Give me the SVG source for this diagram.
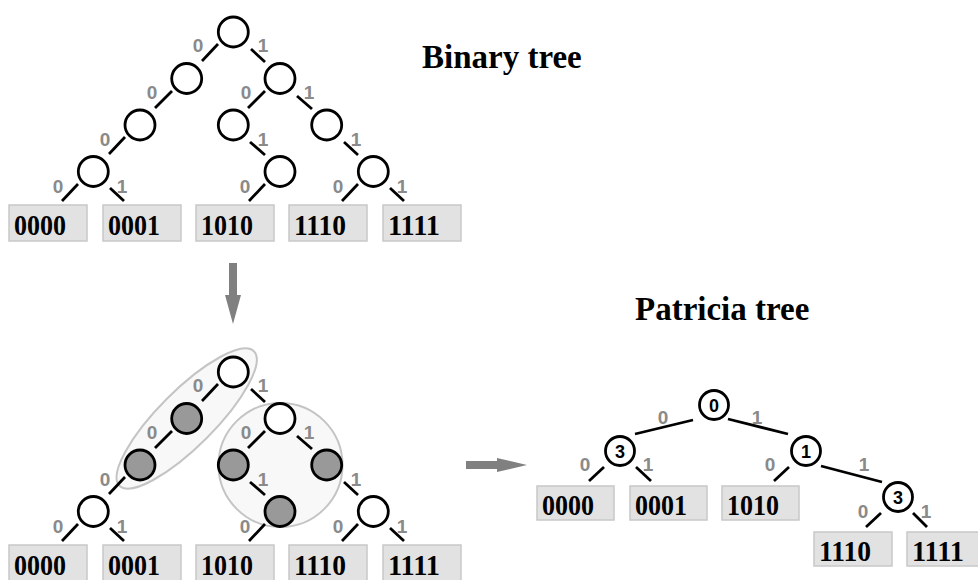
<svg xmlns="http://www.w3.org/2000/svg" width="978" height="580" viewBox="0 0 978 580">
  <style>
    .node { fill: #ffffff; stroke: #000000; stroke-width: 2.8; }
    .node.shaded { fill: #999999; }
    .edge { stroke: #000000; stroke-width: 2.8; fill: none; }
    .bit { font-family: "Liberation Sans", Arial, sans-serif; font-weight: bold; font-size: 19px; fill: #8a8a8a; text-anchor: middle; }
    .idx { font-family: "Liberation Sans", Arial, sans-serif; font-weight: bold; font-size: 18px; fill: #000000; text-anchor: middle; }
    .leaf rect { fill: #e2e2e2; stroke: #c8c8c8; stroke-width: 1.5; }
    .leaf text { font-family: "Liberation Serif", "Times New Roman", serif; font-weight: bold; font-size: 30px; fill: #000000; }
    .title { font-family: "Liberation Serif", "Times New Roman", serif; font-weight: bold; font-size: 33px; fill: #000000; }
    .group { fill: #f8f8f8; stroke: #c4c4c4; stroke-width: 2; }
    .arrow { fill: #808080; }
  </style>

  <!-- Titles -->
  <text class="title" x="422" y="68">Binary tree</text>
  <text class="title" x="635" y="320">Patricia tree</text>

  <!-- ===== Binary tree (top) ===== -->
  <g id="binary-edges">
    <line class="edge" x1="218" y1="44" x2="202" y2="61"/>
    <line class="edge" x1="251" y1="49" x2="265" y2="62"/>
    <line class="edge" x1="172" y1="91" x2="155" y2="108"/>
    <line class="edge" x1="265" y1="91" x2="248" y2="108"/>
    <line class="edge" x1="297" y1="96" x2="312" y2="109"/>
    <line class="edge" x1="125" y1="137" x2="109" y2="154"/>
    <line class="edge" x1="250" y1="142" x2="265" y2="155"/>
    <line class="edge" x1="344" y1="142" x2="358" y2="155"/>
    <line class="edge" x1="78" y1="184" x2="62" y2="201"/>
    <line class="edge" x1="110" y1="188" x2="124" y2="201"/>
    <line class="edge" x1="265" y1="184" x2="249" y2="201"/>
    <line class="edge" x1="358" y1="184" x2="342" y2="201"/>
    <line class="edge" x1="390" y1="188" x2="404" y2="201"/>
  </g>
  <g id="binary-bits">
    <text class="bit" x="198" y="52">0</text>
    <text class="bit" x="263" y="52">1</text>
    <text class="bit" x="152" y="99">0</text>
    <text class="bit" x="246" y="99">0</text>
    <text class="bit" x="309" y="99">1</text>
    <text class="bit" x="105" y="146">0</text>
    <text class="bit" x="263" y="146">1</text>
    <text class="bit" x="356" y="146">1</text>
    <text class="bit" x="58" y="193">0</text>
    <text class="bit" x="122" y="193">1</text>
    <text class="bit" x="245" y="193">0</text>
    <text class="bit" x="338" y="193">0</text>
    <text class="bit" x="402" y="193">1</text>
  </g>
  <g id="binary-nodes">
    <circle id="b-root" class="node" cx="233.3" cy="32" r="15"/>
    <circle id="b-0" class="node" cx="186.7" cy="78.5" r="15"/>
    <circle id="b-1" class="node" cx="280" cy="78.5" r="15"/>
    <circle id="b-00" class="node" cx="140" cy="125" r="15"/>
    <circle id="b-10" class="node" cx="233.3" cy="125" r="15"/>
    <circle id="b-11" class="node" cx="326.7" cy="125" r="15"/>
    <circle id="b-000" class="node" cx="93.3" cy="171.5" r="15"/>
    <circle id="b-101" class="node" cx="280" cy="171.5" r="15"/>
    <circle id="b-111" class="node" cx="373.3" cy="171.5" r="15"/>
  </g>
  <g id="binary-leaves">
    <g id="b-leaf-0000" class="leaf"><rect x="9" y="205" width="78" height="36"/><text x="14" y="235" textLength="52" lengthAdjust="spacingAndGlyphs">0000</text></g>
    <g id="b-leaf-0001" class="leaf"><rect x="103" y="205" width="78" height="36"/><text x="108" y="235" textLength="52" lengthAdjust="spacingAndGlyphs">0001</text></g>
    <g id="b-leaf-1010" class="leaf"><rect x="196" y="205" width="78" height="36"/><text x="201" y="235" textLength="52" lengthAdjust="spacingAndGlyphs">1010</text></g>
    <g id="b-leaf-1110" class="leaf"><rect x="289" y="205" width="78" height="36"/><text x="294" y="235" textLength="52" lengthAdjust="spacingAndGlyphs">1110</text></g>
    <g id="b-leaf-1111" class="leaf"><rect x="383" y="205" width="78" height="36"/><text x="388" y="235" textLength="52" lengthAdjust="spacingAndGlyphs">1111</text></g>
  </g>

  <!-- Down arrow -->
  <polygon class="arrow" points="229,263 237,263 237,295 241,295 233,324 225,295 229,295"/>

  <!-- ===== Binary tree with collapsible chains (bottom) ===== -->
  <g id="chains">
    <ellipse class="group" cx="186.7" cy="418.5" rx="95" ry="28" transform="rotate(-45 186.7 418.5)"/>
    <circle class="group" cx="280.5" cy="465" r="62"/>
  </g>
  <g id="chain-edges">
    <line class="edge" x1="218" y1="384" x2="202" y2="401"/>
    <line class="edge" x1="251" y1="389" x2="265" y2="402"/>
    <line class="edge" x1="172" y1="431" x2="155" y2="448"/>
    <line class="edge" x1="265" y1="431" x2="248" y2="448"/>
    <line class="edge" x1="297" y1="436" x2="312" y2="449"/>
    <line class="edge" x1="125" y1="477" x2="109" y2="494"/>
    <line class="edge" x1="250" y1="482" x2="265" y2="495"/>
    <line class="edge" x1="344" y1="482" x2="358" y2="495"/>
    <line class="edge" x1="78" y1="524" x2="62" y2="541"/>
    <line class="edge" x1="110" y1="528" x2="124" y2="541"/>
    <line class="edge" x1="265" y1="524" x2="249" y2="541"/>
    <line class="edge" x1="358" y1="524" x2="342" y2="541"/>
    <line class="edge" x1="390" y1="528" x2="404" y2="541"/>
  </g>
  <g id="chain-bits">
    <text class="bit" x="198" y="392">0</text>
    <text class="bit" x="263" y="392">1</text>
    <text class="bit" x="152" y="439">0</text>
    <text class="bit" x="246" y="439">0</text>
    <text class="bit" x="309" y="439">1</text>
    <text class="bit" x="105" y="486">0</text>
    <text class="bit" x="263" y="486">1</text>
    <text class="bit" x="356" y="486">1</text>
    <text class="bit" x="58" y="533">0</text>
    <text class="bit" x="122" y="533">1</text>
    <text class="bit" x="245" y="533">0</text>
    <text class="bit" x="338" y="533">0</text>
    <text class="bit" x="402" y="533">1</text>
  </g>
  <g id="chain-nodes">
    <circle id="c-root" class="node" cx="233.3" cy="372" r="15"/>
    <circle id="c-0" class="node shaded" cx="186.7" cy="418.5" r="15"/>
    <circle id="c-1" class="node" cx="280" cy="418.5" r="15"/>
    <circle id="c-00" class="node shaded" cx="140" cy="465" r="15"/>
    <circle id="c-10" class="node shaded" cx="233.3" cy="465" r="15"/>
    <circle id="c-11" class="node shaded" cx="326.7" cy="465" r="15"/>
    <circle id="c-000" class="node" cx="93.3" cy="511.5" r="15"/>
    <circle id="c-101" class="node shaded" cx="280" cy="511.5" r="15"/>
    <circle id="c-111" class="node" cx="373.3" cy="511.5" r="15"/>
  </g>
  <g id="chain-leaves">
    <g id="c-leaf-0000" class="leaf"><rect x="9" y="545" width="78" height="36"/><text x="14" y="575" textLength="52" lengthAdjust="spacingAndGlyphs">0000</text></g>
    <g id="c-leaf-0001" class="leaf"><rect x="103" y="545" width="78" height="36"/><text x="108" y="575" textLength="52" lengthAdjust="spacingAndGlyphs">0001</text></g>
    <g id="c-leaf-1010" class="leaf"><rect x="196" y="545" width="78" height="36"/><text x="201" y="575" textLength="52" lengthAdjust="spacingAndGlyphs">1010</text></g>
    <g id="c-leaf-1110" class="leaf"><rect x="289" y="545" width="78" height="36"/><text x="294" y="575" textLength="52" lengthAdjust="spacingAndGlyphs">1110</text></g>
    <g id="c-leaf-1111" class="leaf"><rect x="383" y="545" width="78" height="36"/><text x="388" y="575" textLength="52" lengthAdjust="spacingAndGlyphs">1111</text></g>
  </g>

  <!-- Right arrow -->
  <polygon class="arrow" points="466,461 497,461 497,458 527,465 497,472 497,469 466,469"/>

  <!-- ===== Patricia tree ===== -->
  <g id="patricia-edges">
    <line class="edge" x1="693" y1="420" x2="635" y2="434"/>
    <line class="edge" x1="728" y1="419" x2="788" y2="434"/>
    <line class="edge" x1="821" y1="466" x2="882" y2="482"/>
    <line class="edge" x1="604" y1="467" x2="589" y2="481"/>
    <line class="edge" x1="636" y1="467" x2="651" y2="481"/>
    <line class="edge" x1="789" y1="467" x2="774" y2="481"/>
    <line class="edge" x1="881" y1="513" x2="866" y2="527"/>
    <line class="edge" x1="913" y1="513" x2="927" y2="527"/>
  </g>
  <g id="patricia-bits">
    <text class="bit" x="663" y="424">0</text>
    <text class="bit" x="757" y="424">1</text>
    <text class="bit" x="585" y="471">0</text>
    <text class="bit" x="648" y="471">1</text>
    <text class="bit" x="770" y="471">0</text>
    <text class="bit" x="864" y="471">1</text>
    <text class="bit" x="863" y="518">0</text>
    <text class="bit" x="926" y="518">1</text>
  </g>
  <g id="p-root">
    <circle class="node" cx="714" cy="405" r="14.5"/>
    <text class="idx" x="714" y="411.5">0</text>
  </g>
  <g id="p-left">
    <circle class="node" cx="620" cy="451" r="14.5"/>
    <text class="idx" x="620" y="457.5">3</text>
  </g>
  <g id="p-right">
    <circle class="node" cx="806" cy="451" r="14.5"/>
    <text class="idx" x="806" y="457.5">1</text>
  </g>
  <g id="p-right-right">
    <circle class="node" cx="898" cy="497" r="14.5"/>
    <text class="idx" x="898" y="503.5">3</text>
  </g>
  <g id="patricia-leaves">
    <g id="p-leaf-0000" class="leaf"><rect x="537" y="486" width="77" height="34"/><text x="542" y="515" textLength="52" lengthAdjust="spacingAndGlyphs">0000</text></g>
    <g id="p-leaf-0001" class="leaf"><rect x="630" y="486" width="77" height="34"/><text x="635" y="515" textLength="52" lengthAdjust="spacingAndGlyphs">0001</text></g>
    <g id="p-leaf-1010" class="leaf"><rect x="722" y="486" width="77" height="34"/><text x="727" y="515" textLength="52" lengthAdjust="spacingAndGlyphs">1010</text></g>
    <g id="p-leaf-1110" class="leaf"><rect x="814" y="532" width="78" height="34"/><text x="819" y="561" textLength="52" lengthAdjust="spacingAndGlyphs">1110</text></g>
    <g id="p-leaf-1111" class="leaf"><rect x="907" y="532" width="78" height="34"/><text x="912" y="561" textLength="52" lengthAdjust="spacingAndGlyphs">1111</text></g>
  </g>
</svg>
